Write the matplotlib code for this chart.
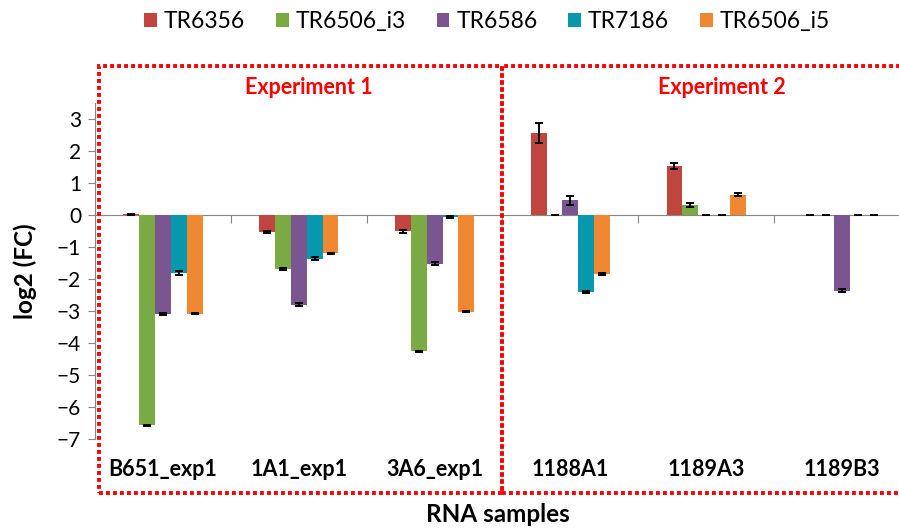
import numpy as np
import matplotlib
matplotlib.use("Agg")
import matplotlib.pyplot as plt
from matplotlib.patches import Rectangle

plt.rcParams['font.family'] = ['Lato', 'DejaVu Sans']

samples = ["B651_exp1", "1A1_exp1", "3A6_exp1", "1188A1", "1189A3", "1189B3"]
series = ["TR6356", "TR6506_i3", "TR6586", "TR7186", "TR6506_i5"]
colors = ["#C0453F", "#79AA44", "#7A5592", "#0898AE", "#F08731"]

# log2 fold change per sample (one list per transcript)
tr6356 = [0.02, -0.53, -0.51, 2.56, 1.52, 0.0]
tr6506_i3 = [-6.57, -1.69, -4.26, 0.01, 0.32, 0.0]
tr6586 = [-3.10, -2.80, -1.52, 0.46, 0.0, -2.36]
tr7186 = [-1.82, -1.36, -0.06, -2.41, 0.0, 0.0]
tr6506_i5 = [-3.08, -1.20, -3.02, -1.83, 0.64, 0.0]

# standard errors
err_tr6356 = [0.01, 0.04, 0.04, 0.32, 0.09, 0.0]
err_tr6506_i3 = [0.02, 0.03, 0.02, 0.0, 0.07, 0.0]
err_tr6586 = [0.03, 0.05, 0.05, 0.14, 0.0, 0.04]
err_tr7186 = [0.07, 0.04, 0.04, 0.04, 0.0, 0.0]
err_tr6506_i5 = [0.02, 0.02, 0.02, 0.03, 0.06, 0.0]

values = [tr6356, tr6506_i3, tr6586, tr7186, tr6506_i5]
errors = [err_tr6356, err_tr6506_i3, err_tr6586, err_tr7186, err_tr6506_i5]

W, H = 899, 529
fig = plt.figure(figsize=(W / 100, H / 100), dpi=100)
ax = fig.add_axes([95 / W, 90 / H, 815 / W, 336 / H])

x = np.arange(len(samples))
bw = 0.117
for k, (name, vals, errs, c) in enumerate(zip(series, values, errors, colors)):
    pos = x + (k - 2) * bw
    ax.bar(pos, vals, width=bw, color=c, label=name, zorder=2)
    ax.errorbar(pos, vals, yerr=errs, fmt='none', ecolor='black',
                elinewidth=1.4, capsize=3, capthick=1.4, zorder=3)

ax.set_xlim(-0.5, len(samples) - 0.5)
ax.set_ylim(-7, 3.5)
ax.set_yticks(np.arange(-7, 4, 1))
ax.tick_params(axis='y', length=5, color='#868686', labelsize=15, pad=5)

for s in ['top', 'right']:
    ax.spines[s].set_visible(False)
ax.spines['left'].set_color('#868686')
ax.spines['bottom'].set_color('#868686')
ax.spines['bottom'].set_position(('data', 0))
ax.spines['bottom'].set_zorder(1)
ax.set_xticks(x[:-1] + 0.5)
ax.set_xticklabels([])
ax.tick_params(axis='x', length=6, color='#868686', direction='out')

# category names sit below the plotting area
xt = ax.get_xaxis_transform()
for xi, name in zip(x, samples):
    ax.text(xi, -0.092, name, transform=xt, ha='center', va='center',
            fontsize=15.5, fontweight='bold')

ax.set_ylabel("log2 (FC)", fontsize=17.5, fontweight='bold', labelpad=14)
fig.text(498 / W, 1 - 515 / H, "RNA samples", ha='center', va='center',
         fontsize=17.5, fontweight='bold')

ax.legend(loc='center', bbox_to_anchor=(487 / W, 1 - 22 / H),
          bbox_transform=fig.transFigure, ncol=5, frameon=False,
          fontsize=16.5, handlelength=0.55, handleheight=0.55,
          handletextpad=0.3, columnspacing=1.35)

# experiment frames
def frame(x0, x1):
    r = Rectangle((x0 / W, 1 - 493 / H), (x1 - x0) / W, (493 - 66) / H,
                  transform=fig.transFigure, fill=False, edgecolor='#FF0000',
                  linewidth=2.8, linestyle=(0, (1.0, 0.8)), clip_on=False)
    r.set_capstyle('butt')
    fig.patches.append(r)

frame(99, 502)
frame(502, 915)

fig.text(309 / W, 1 - 87 / H, "Experiment 1", ha='center', va='center',
         fontsize=15.5, fontweight='bold', color='#FF0000')
fig.text(722 / W, 1 - 87 / H, "Experiment 2", ha='center', va='center',
         fontsize=15.5, fontweight='bold', color='#FF0000')

fig.savefig("out.png", dpi=100)
